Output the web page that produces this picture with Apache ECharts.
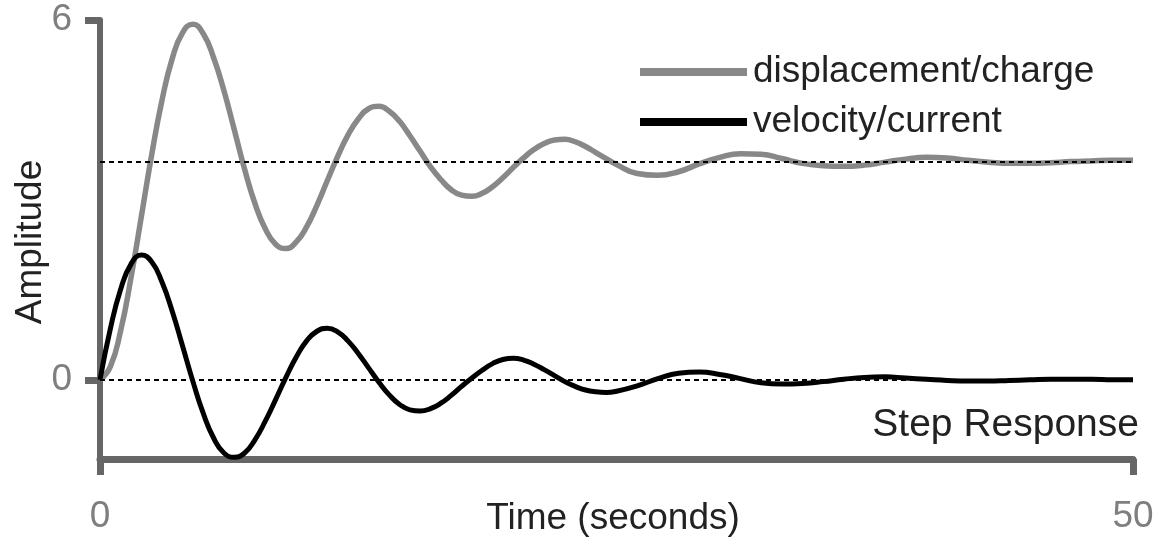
<!DOCTYPE html>
<html>
<head>
<meta charset="utf-8">
<script src="https://cdn.jsdelivr.net/npm/echarts@6/dist/echarts.min.js"></script>
<style>
html,body{margin:0;padding:0;background:#fff;}
#chart{width:1166px;height:542px;}
</style>
</head>
<body>
<div id="chart"></div>
<script>
// Time samples (seconds)
var times = [0,0.5,1,1.5,2,2.5,3,3.5,4,4.5,5,5.5,6,6.5,7,7.5,8,8.5,9,9.5,10,
  10.5,11,11.5,12,12.5,13,13.5,14,14.5,15,15.5,16,16.5,17,17.5,18,18.5,19,19.5,20,
  20.5,21,21.5,22,22.5,23,23.5,24,24.5,25,26,27,28,29,30,31,32,33,34,35,36,37,38,39,40,
  41,42,43,44,45,46,47,48,49,50];

// displacement/charge (gray)
var displacement = [0,0.22,0.82,1.70,2.72,3.75,4.66,5.36,5.79,5.93,5.77,5.37,4.82,4.17,3.51,2.94,2.52,2.26,2.19,2.30,2.55,
  2.91,3.32,3.72,4.08,4.35,4.52,4.56,4.48,4.31,4.07,3.81,3.55,3.34,3.17,3.08,3.06,3.11,3.22,3.37,3.54,
  3.70,3.84,3.94,4.00,4.01,3.97,3.89,3.79,3.69,3.59,3.44,3.41,3.47,3.60,3.71,3.77,3.76,3.69,3.61,3.57,3.56,3.58,3.63,3.68,3.71,
  3.70,3.66,3.63,3.61,3.61,3.62,3.64,3.65,3.66,3.66];

// velocity/current (black)
var velocity = [0,0.85,1.51,1.93,2.08,1.97,1.63,1.14,0.56,-0.03,-0.56,-0.97,-1.22,-1.29,-1.22,-1.00,-0.69,-0.33,0.04,0.38,0.65,
  0.81,0.86,0.80,0.65,0.44,0.20,-0.04,-0.25,-0.41,-0.50,-0.52,-0.48,-0.39,-0.26,-0.11,0.03,0.16,0.27,0.34,0.36,
  0.33,0.26,0.17,0.07,-0.03,-0.11,-0.17,-0.20,-0.21,-0.19,-0.10,0.02,0.11,0.13,0.09,0.02,-0.05,-0.07,-0.06,-0.03,0.01,0.04,0.05,0.03,0.01,
  -0.01,-0.02,-0.02,-0.01,0.00,0.01,0.01,0.01,0.00,0.00];

var finalValue = 3.63;
var xTicks = [0, 50];
var yTicks = [0, 6];
var seriesNames = ['displacement/charge', 'velocity/current'];
var xTitle = 'Time (seconds)';
var yTitle = 'Amplitude';
var plotNote = 'Step Response';

var FONT = '"Liberation Sans", Arial, sans-serif';
var chart = echarts.init(document.getElementById('chart'), null, {renderer: 'canvas'});

function pairs(vals) { return times.map(function (t, i) { return [t, vals[i]]; }); }

chart.setOption({
  animation: false,
  backgroundColor: '#ffffff',
  grid: {left: 100, right: 33, top: 20, bottom: 83, containLabel: false, outerBoundsMode: 'none'},
  legend: {
    orient: 'vertical',
    left: 640,
    top: 52,
    padding: 0,
    itemGap: 10,
    itemWidth: 107,
    itemHeight: 8,
    icon: 'rect',
    textStyle: {fontFamily: FONT, fontSize: 37, color: '#222', lineHeight: 40, padding: [0, 0, 0, 1]},
    data: seriesNames
  },
  xAxis: {
    type: 'value', min: 0, max: 50,
    axisLine: {onZero: false, lineStyle: {color: '#666', width: 7}},
    axisTick: {show: true, customValues: xTicks, length: 16, lineStyle: {color: '#666', width: 7}},
    axisLabel: {customValues: xTicks, margin: 39, fontFamily: FONT, fontSize: 37, color: '#7f7f7f'},
    splitLine: {show: false}
  },
  yAxis: {
    type: 'value', min: -1.32, max: 6,
    axisLine: {show: true, lineStyle: {color: '#666', width: 6}},
    axisTick: {show: true, customValues: yTicks, length: 15, lineStyle: {color: '#666', width: 7}},
    axisLabel: {customValues: yTicks, margin: 28, fontFamily: FONT, fontSize: 37, color: '#7f7f7f'},
    splitLine: {show: false}
  },
  graphic: [
    {
      type: 'text', x: 613, y: 519,
      style: {text: xTitle, fontFamily: FONT, fontSize: 37, fill: '#222', align: 'center', verticalAlign: 'middle'}
    },
    {
      type: 'text', x: 31, y: 242, rotation: Math.PI / 2,
      style: {text: yTitle, fontFamily: FONT, fontSize: 37, fill: '#222', align: 'center', verticalAlign: 'middle'}
    },
    {
      type: 'text', x: 1139, y: 425,
      style: {text: plotNote, fontFamily: FONT, fontSize: 39, fill: '#222', align: 'right', verticalAlign: 'middle'}
    }
  ],
  series: [
    {
      name: seriesNames[0], type: 'line', data: pairs(displacement),
      smooth: 0.5, showSymbol: false, symbol: 'none',
      lineStyle: {color: '#888', width: 5.5}, itemStyle: {color: '#888'},
      markLine: {
        silent: true, symbol: 'none', label: {show: false},
        lineStyle: {color: '#000', width: 2.2, type: [5, 4]},
        data: [{yAxis: finalValue}, {yAxis: 0}]
      },
      z: 2
    },
    {
      name: seriesNames[1], type: 'line', data: pairs(velocity),
      smooth: 0.5, showSymbol: false, symbol: 'none',
      lineStyle: {color: '#000', width: 5}, itemStyle: {color: '#000'},
      z: 3
    }
  ]
});
</script>
</body>
</html>
